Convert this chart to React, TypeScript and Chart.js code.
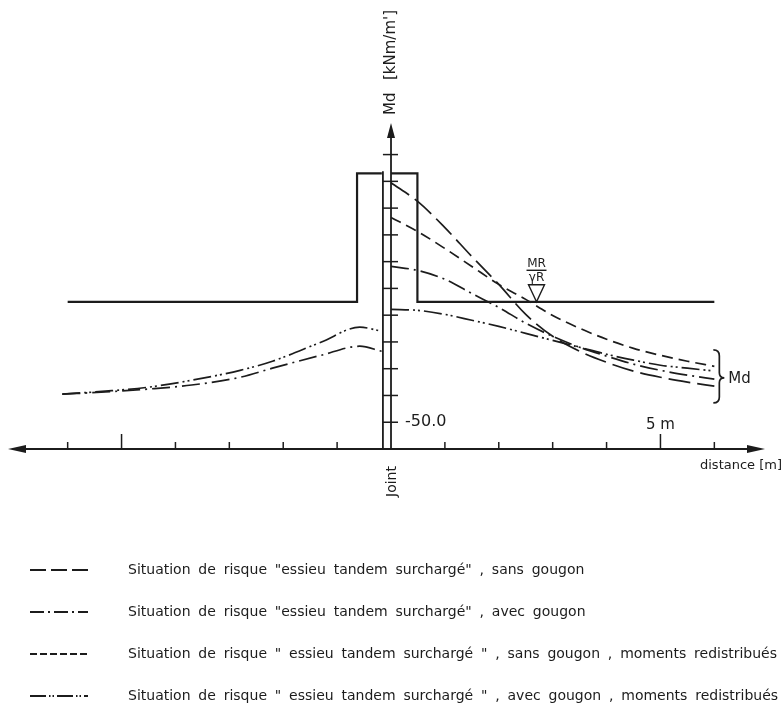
import { useEffect, useRef } from 'react';
import { Chart, registerables } from 'chart.js';

Chart.register(...registerables);

// ---- data (metres / kNm/m') ----
const rightX = [0, 0.5, 1, 1.5, 2, 2.5, 3, 3.5, 4, 4.5, 5, 5.5, 6];
const sansGougon = [39.5, 32.4, 22.7, 11.9, 1.5, -9.7, -17.9, -23.5, -27.6, -30.9, -33.2, -35.0, -36.5];
const avecGougonRight = [8.2, 6.7, 3.4, -1.9, -7.1, -13.0, -17.9, -22.0, -25.3, -28.3, -30.6, -32.4, -33.9];
const sansGougonRedist = [26.5, 21.2, 14.9, 8.2, 1.5, -4.1, -10.1, -14.9, -19.0, -22.4, -25.0, -27.2, -29.1];
const avecGougonRedistRight = [-7.8, -8.2, -9.7, -11.9, -14.2, -16.8, -19.4, -22.0, -24.6, -26.8, -28.7, -29.8, -30.9];

const leftX = [-6.1, -5.3, -4.5, -3.7, -2.8, -2.2, -1.3, -0.58, -0.17];
const avecGougonLeft = [-39.5, -38.7, -37.6, -36.1, -33.2, -29.8, -25.0, -21.6, -23.5];
const avecGougonRedistLeft = [-39.5, -38.4, -36.9, -34.3, -30.6, -27.2, -20.1, -14.5, -16.0];

// resistance line MR/γR with the joint zone step
const stepLeftX = [-6, -0.63, -0.63, -0.17];
const stepLeftY = [-5, -5, 43, 43];
const stepRightX = [0, 0.49, 0.49, 6];
const stepRightY = [43, 43, -5, -5];

const xTicks = [-6, -5, -4, -3, -2, -1, 1, 2, 3, 4, 5, 6];
const xMajorTicks = [-5, 5];
const yTicks = [-50, -40, -30, -20, -10, 0, 10, 20, 30, 40, 50];
const yTickLabel = '-50.0';
const yTickLabelValue = -50;
const xTickLabel = '5 m';
const xTickLabelValue = 5;

const legendLabels = [
  'Situation de risque "essieu tandem surchargé" , sans gougon',
  'Situation de risque "essieu tandem surchargé" , avec gougon',
  'Situation de risque " essieu tandem surchargé " , sans gougon , moments redistribués',
  'Situation de risque " essieu tandem surchargé " , avec gougon , moments redistribués',
];

const INK = '#1c1c1c';
const F = '"DejaVu Sans", sans-serif';
const dashA = [22, 7];
const dashB = [18, 5, 2, 5];
const dashC = [11, 6];
const dashD = [18, 4, 2, 3, 2, 4];
const legendDash = [[16, 5], [14, 4, 2, 4], [7, 3], [16, 3, 1.5, 2, 1.5, 3]];

const X_MIN = -7.07;
const X_MAX = 6.94;
const Y_MIN = -60;
const Y_MAX = 61.8;

function pts(xs: number[], ys: number[]) {
  return xs.map((x, i) => ({ x, y: ys[i] }));
}

function txt(ctx: CanvasRenderingContext2D, text: string, x: number, y: number, size: number, align: CanvasTextAlign = 'left') {
  ctx.font = `${size}px ${F}`;
  ctx.textAlign = align;
  ctx.textBaseline = 'middle';
  ctx.fillText(text, x, y);
}

function line(ctx: CanvasRenderingContext2D, x1: number, y1: number, x2: number, y2: number) {
  ctx.beginPath();
  ctx.moveTo(x1, y1);
  ctx.lineTo(x2, y2);
  ctx.stroke();
}

function arrow(ctx: CanvasRenderingContext2D, tx: number, ty: number, dx: number, dy: number, len: number, hw: number) {
  const bx = tx - dx * len;
  const by = ty - dy * len;
  const px = -dy;
  const py = dx;
  ctx.beginPath();
  ctx.moveTo(tx, ty);
  ctx.lineTo(bx + px * hw, by + py * hw);
  ctx.lineTo(bx - px * hw, by - py * hw);
  ctx.closePath();
  ctx.fill();
}

const decor = {
  id: 'decor',
  beforeDraw(chart: any) {
    const ctx = chart.ctx as CanvasRenderingContext2D;
    ctx.save();
    ctx.fillStyle = '#ffffff';
    ctx.fillRect(0, 0, chart.width, chart.height);
    ctx.restore();
  },
  afterDraw(chart: any) {
    const ctx = chart.ctx as CanvasRenderingContext2D;
    const xs = chart.scales.x;
    const ys = chart.scales.y;
    const X = (v: number) => xs.getPixelForValue(v);
    const Y = (v: number) => ys.getPixelForValue(v);
    ctx.save();
    ctx.strokeStyle = INK;
    ctx.fillStyle = INK;
    ctx.lineCap = 'butt';

    // x axis
    const yAx = Y(Y_MIN);
    ctx.lineWidth = 2;
    line(ctx, X(X_MIN) + 10, yAx, X(X_MAX) - 10, yAx);
    arrow(ctx, X(X_MIN) - 2, yAx, -1, 0, 18, 4);
    arrow(ctx, X(X_MAX), yAx, 1, 0, 18, 4);
    ctx.lineWidth = 1.5;
    xTicks.forEach((t) => {
      const h = xMajorTicks.includes(t) ? 15 : 7;
      line(ctx, X(t), yAx, X(t), yAx - h);
    });

    // y axis (double joint line)
    ctx.lineWidth = 1.8;
    line(ctx, X(0), yAx, X(0), Y(Y_MAX) + 12);
    arrow(ctx, X(0), Y(Y_MAX), 0, -1, 15, 4);
    line(ctx, X(-0.15), yAx, X(-0.15), Y(43.8));
    ctx.lineWidth = 1.5;
    yTicks.forEach((t) => {
      line(ctx, X(-0.15), Y(t), X(0.13), Y(t));
    });

    // tick labels
    txt(ctx, yTickLabel, X(0.26), Y(yTickLabelValue), 16);
    txt(ctx, xTickLabel, X(xTickLabelValue), Y(-50) + 3, 15, 'center');
    txt(ctx, 'distance [m]', 700, yAx + 17, 13);

    // rotated labels
    ctx.save();
    ctx.translate(X(0) + 1, 497);
    ctx.rotate(-Math.PI / 2);
    txt(ctx, 'Joint', 0, 0, 14);
    ctx.restore();

    ctx.save();
    ctx.translate(X(0), 115);
    ctx.rotate(-Math.PI / 2);
    txt(ctx, 'Md', 0, 0, 15);
    txt(ctx, "[kNm/m']", 35, 0, 15);
    ctx.restore();

    // MR / γR marker
    const cx = X(2.7);
    const yMR = Y(-5);
    ctx.lineWidth = 1.4;
    ctx.beginPath();
    ctx.moveTo(cx, yMR);
    ctx.lineTo(cx - 8, yMR - 17);
    ctx.lineTo(cx + 8, yMR - 17);
    ctx.closePath();
    ctx.stroke();
    txt(ctx, 'MR', cx, yMR - 38, 12, 'center');
    line(ctx, cx - 10, yMR - 31.5, cx + 10, yMR - 31.5);
    txt(ctx, 'γR', cx, yMR - 24, 12, 'center');

    // brace "Md"
    const bx = X(6) - 1;
    const top = Y(-23);
    const bot = Y(-42.8);
    const mid = Y(-33.4);
    ctx.lineWidth = 1.7;
    ctx.beginPath();
    ctx.moveTo(bx, top);
    ctx.quadraticCurveTo(bx + 6, top, bx + 6, top + 6);
    ctx.lineTo(bx + 6, mid - 5);
    ctx.quadraticCurveTo(bx + 6, mid, bx + 11, mid);
    ctx.quadraticCurveTo(bx + 6, mid, bx + 6, mid + 5);
    ctx.lineTo(bx + 6, bot - 6);
    ctx.quadraticCurveTo(bx + 6, bot, bx, bot);
    ctx.stroke();
    txt(ctx, 'Md', bx + 15, mid + 1, 15);

    // legend
    const rowsY = [570, 612, 654, 696];
    ctx.font = `14px ${F}`;
    (ctx as any).wordSpacing = '0px';
    const ref = legendLabels[2];
    const w0 = ctx.measureText(ref).width;
    const nSp = ref.split(' ').length - 1;
    const ws = (777 - 128 - w0) / nSp;
    legendLabels.forEach((label, i) => {
      const y = rowsY[i];
      ctx.lineWidth = 2;
      ctx.setLineDash(legendDash[i]);
      line(ctx, 30, y, 88, y);
      ctx.setLineDash([]);
      (ctx as any).wordSpacing = `${ws}px`;
      txt(ctx, label, 128, y, 14);
      (ctx as any).wordSpacing = '0px';
    });

    ctx.restore();
  },
};

export default function App() {
  const ref = useRef<HTMLCanvasElement | null>(null);
  useEffect(() => {
    if (!ref.current) return;
    const common = {
      borderColor: INK,
      backgroundColor: INK,
      pointRadius: 0,
      fill: false,
    };
    const curve = { ...common, borderWidth: 1.7, cubicInterpolationMode: 'monotone' as const };
    const chart = new Chart(ref.current, {
      type: 'line',
      data: {
        datasets: [
          { ...common, label: 'MR/γR gauche', data: pts(stepLeftX, stepLeftY), borderWidth: 2.2, tension: 0 },
          { ...common, label: 'MR/γR droite', data: pts(stepRightX, stepRightY), borderWidth: 2.2, tension: 0 },
          { ...curve, label: legendLabels[0], data: pts(rightX, sansGougon), borderDash: dashA },
          { ...curve, label: legendLabels[1], data: pts(rightX, avecGougonRight), borderDash: dashB },
          { ...curve, label: legendLabels[1] + ' (gauche)', data: pts(leftX, avecGougonLeft), borderDash: dashB },
          { ...curve, label: legendLabels[2], data: pts(rightX, sansGougonRedist), borderDash: dashC },
          { ...curve, label: legendLabels[3], data: pts(rightX, avecGougonRedistRight), borderDash: dashD },
          { ...curve, label: legendLabels[3] + ' (gauche)', data: pts(leftX, avecGougonRedistLeft), borderDash: dashD },
        ],
      },
      options: {
        animation: false,
        responsive: false,
        devicePixelRatio: 1,
        layout: { padding: { left: 10, right: 17, top: 123, bottom: 260 } },
        plugins: { legend: { display: false }, tooltip: { enabled: false } },
        scales: {
          x: { type: 'linear', min: X_MIN, max: X_MAX, display: false },
          y: { type: 'linear', min: Y_MIN, max: Y_MAX, display: false },
        },
      },
      plugins: [decor],
    });
    return () => chart.destroy();
  }, []);
  return (
    <div style={{ position: 'absolute', left: 0, top: 0, width: 782, height: 709 }}>
      <canvas ref={ref} width={782} height={709} style={{ display: 'block', width: 782, height: 709 }} />
    </div>
  );
}
